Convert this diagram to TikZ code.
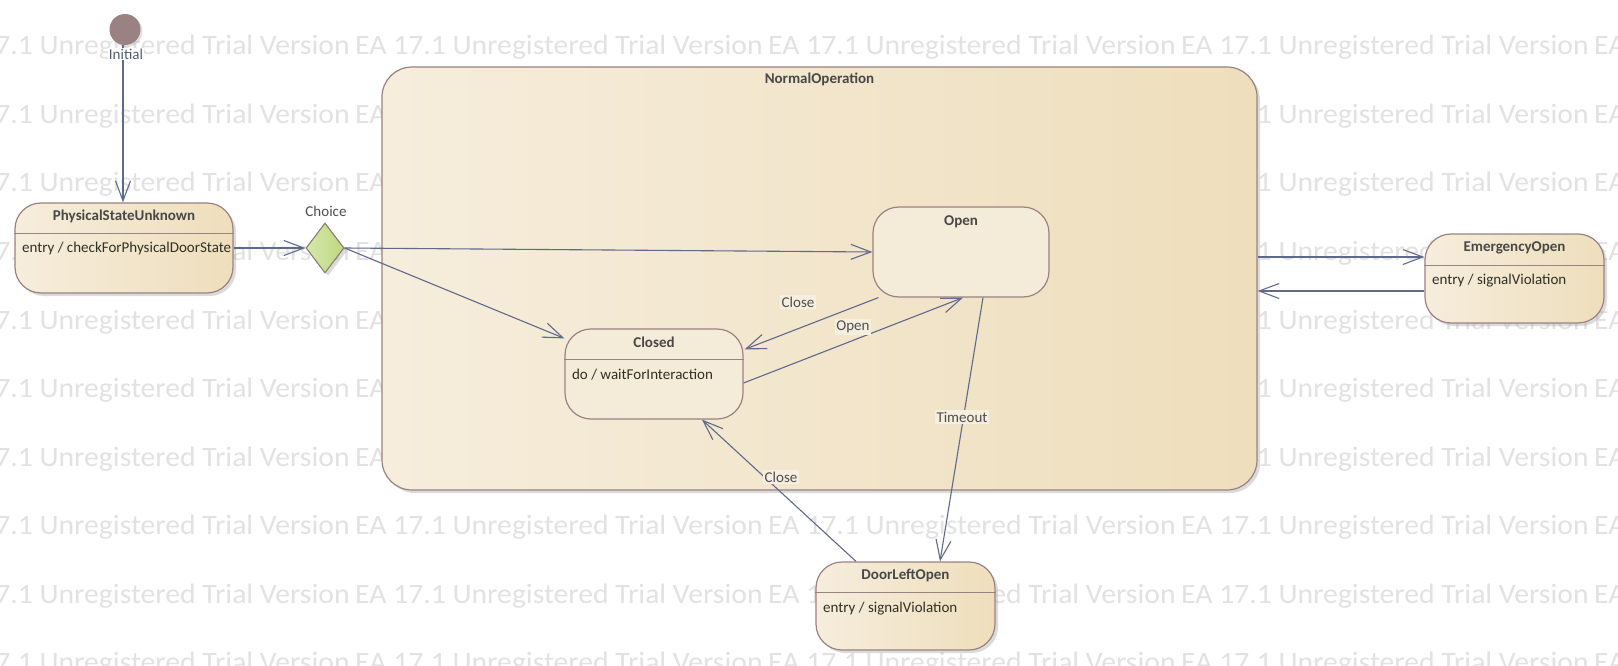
\documentclass[tikz,border=0pt]{standalone}
\usepackage{fontspec}
\setmainfont{Carlito}
\usetikzlibrary{arrows.meta,shapes.geometric,shadows,calc}
\definecolor{wmgray}{RGB}{226,226,226}
\definecolor{bordc}{RGB}{155,130,130}
\definecolor{arrc}{RGB}{95,105,140}
\definecolor{titc}{RGB}{72,72,72}
\definecolor{bodyc}{RGB}{48,48,36}
\definecolor{lblc}{RGB}{78,78,78}
\definecolor{initlc}{RGB}{82,92,116}
\definecolor{lblbg}{RGB}{246,239,224}
\definecolor{tanL}{RGB}{246,237,220}
\definecolor{tanR}{RGB}{238,222,188}
\definecolor{tanI}{RGB}{245,235,217}
\definecolor{grL}{RGB}{214,231,172}
\definecolor{grR}{RGB}{190,216,128}
\definecolor{grB}{RGB}{140,128,108}
\definecolor{initc}{RGB}{155,130,130}
\begin{document}
\begin{tikzpicture}[x=1pt,y=-1pt,
  wm/.style={font=\fontsize{28}{30}\selectfont, text=wmgray, inner sep=0},
  shad/.style={drop shadow={shadow xshift=3pt,shadow yshift=-3pt,fill=black!35,opacity=0.4}},
  box/.style={draw=bordc, line width=1.2pt, rectangle, rounded corners=26, inner sep=0,
    minimum width=178, minimum height=89},
  outbox/.style={box, shad, left color=tanL, right color=tanR},
  inbox/.style={box, fill=tanI},
  sep/.style={draw=bordc, line width=1.1pt},
  title/.style={font=\fontsize{15}{17}\selectfont\bfseries, text=titc, inner sep=0},
  body/.style={font=\fontsize{15}{17}\selectfont, text=bodyc, inner sep=0, anchor=west},
  lbl/.style={font=\fontsize{15}{17}\selectfont, text=lblc, fill=lblbg, inner sep=1.5pt},
  tr/.style={draw=arrc, line width=1.1pt, -{Straight Barb[length=20pt,width=15pt]}}
]
\useasboundingbox (0,0) rectangle (1618,666);
\fill[white] (0,0) rectangle (1618,666);
% watermark
\begin{scope}
\clip (0,0) rectangle (1618,666);
\foreach \r in {0,...,9}{
  \foreach \k in {0,...,4}{
    \node[wm, anchor=base west] (wm-\r-\k) at ({355+413*(\k-1)},{55+68.5*\r}) {\scalebox{1.06}[1]{EA 17.1 Unregistered Trial Version}};
  }
}
\end{scope}

% composite state
\node[box, shad, rounded corners=30, minimum width=875, minimum height=423,
  left color=tanL, right color=tanR] (normal) at (819.5,278.5) {};
\node[title] (normal-t) at ($(normal.north)+(0,13)$) {NormalOperation};

% initial
\node[circle, fill=initc, minimum size=31, inner sep=0,
  drop shadow={shadow xshift=2pt,shadow yshift=-2pt,fill=black!30,opacity=0.4}] (init) at (125,29.5) {};

% PhysicalStateUnknown
\node[outbox, minimum width=218, minimum height=90] (psu) at (124,248) {};
\node[title] (psu-t) at ($(psu.north)+(0,14.5)$) {PhysicalStateUnknown};
\draw[sep] ($(psu.north west)+(0,31.5)$) -- ($(psu.north east)+(0,31.5)$);
\node[body] (psu-b) at ($(psu.north west)+(7.5,46.5)$) {entry / checkForPhysicalDoorState};

% Choice
\node[diamond, draw=grB, line width=1.1pt, left color=grL, right color=grR,
  minimum width=38, minimum height=50, inner sep=0, shad] (choice) at (325,248) {};
\node[font=\fontsize{15}{17}\selectfont, text=lblc, inner sep=1pt] (choice-l) at (326,211) {Choice};

% Open
\node[inbox, minimum width=176, minimum height=90] (open) at (961,252) {};
\node[title] (open-t) at ($(open.north)+(0,15)$) {Open};

% Closed
\node[inbox, minimum width=178, minimum height=90] (closed) at (654,374) {};
\node[title] (closed-t) at ($(closed.north)+(0,13.5)$) {Closed};
\draw[sep] ($(closed.north west)+(0,31.5)$) -- ($(closed.north east)+(0,31.5)$);
\node[body] (closed-b) at ($(closed.north west)+(7.5,46.5)$) {do / waitForInteraction};

% EmergencyOpen
\node[outbox, minimum width=179, minimum height=89] (eo) at (1514.5,278.5) {};
\node[title] (eo-t) at ($(eo.north)+(0,14.5)$) {EmergencyOpen};
\draw[sep] ($(eo.north west)+(0,32)$) -- ($(eo.north east)+(0,32)$);
\node[body] (eo-b) at ($(eo.north west)+(7.5,47.5)$) {entry / signalViolation};

% DoorLeftOpen
\node[outbox, minimum width=179, minimum height=88] (dlo) at (905.5,606) {};
\node[title] (dlo-t) at ($(dlo.north)+(0,14)$) {DoorLeftOpen};
\draw[sep] ($(dlo.north west)+(0,31.5)$) -- ($(dlo.north east)+(0,31.5)$);
\node[body] (dlo-b) at ($(dlo.north west)+(7.5,47)$) {entry / signalViolation};

% transitions
\draw[tr] ($(init.south)+(-2,0)$) -- ($(psu.north)+(-1,0)$);
\draw[tr] (psu.east) -- (choice.west);
\draw[tr] (choice.east) -- (open.west);
\draw[tr] (choice.east) -- ($(closed.north west)+(0,10)$);
\draw[tr] ($(open.south west)+(6,0)$) -- ($(closed.north east)+(1,21)$);
\draw[tr] ($(closed.east)+(0,9)$) -- ($(open.south)+(2,0)$);
\draw[tr] ($(open.south)+(22,0)$) -- ($(dlo.north)+(34.5,0)$);
\draw[tr] ($(dlo.north)+(-49.5,0)$) -- ($(closed.south)+(48,0)$);
\draw[tr] ($(normal.east)+(0,-21.5)$) -- ($(eo.west)+(0,-21.5)$);
\draw[tr] ($(eo.west)+(0,12.5)$) -- ($(normal.east)+(0,12.5)$);

% labels
\node[font=\fontsize{15}{17}\selectfont, text=initlc, fill=white, inner sep=1pt] (init-l) at (126,54) {Initial};
\node[lbl] (l-close1) at (798,302) {Close};
\node[lbl] (l-open) at (853,327) {Open};
\node[lbl] (l-timeout) at (962,417) {Timeout};
\node[lbl] (l-close2) at (781,477) {Close};
\end{tikzpicture}
\end{document}
